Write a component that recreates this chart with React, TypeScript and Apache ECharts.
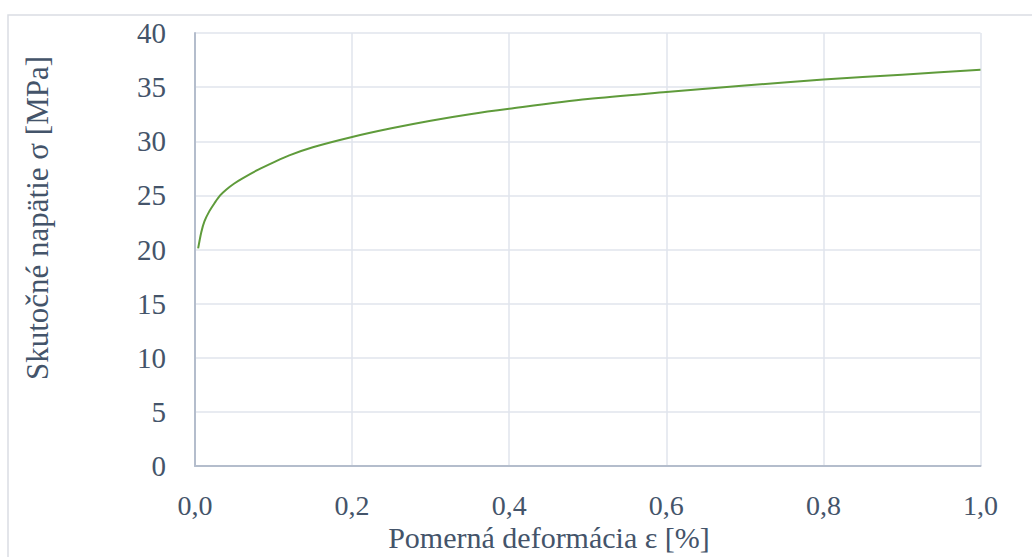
import React, { useEffect, useRef } from "react";
import * as echarts from "echarts";

const strain = [0.004, 0.008, 0.012, 0.018, 0.025, 0.032, 0.04, 0.05, 0.06, 0.08, 0.1, 0.12, 0.15, 0.2, 0.25, 0.3, 0.35, 0.4, 0.5, 0.6, 0.7, 0.8, 0.9, 1.0];
const stress = [20.1, 21.6, 22.6, 23.5, 24.3, 25.0, 25.55, 26.1, 26.55, 27.35, 28.05, 28.7, 29.45, 30.4, 31.2, 31.9, 32.5, 33.0, 33.9, 34.55, 35.15, 35.7, 36.15, 36.6];
const xTitle = "Pomerná deformácia ε [%]";
const yTitle = "Skutočné napätie σ [MPa]";

const FONT = "Times New Roman";
const TEXT = "#44546a";

export default function App() {
  const ref = useRef<HTMLDivElement>(null);
  useEffect(() => {
    if (!ref.current) return;
    const chart = echarts.init(ref.current, null, { renderer: "svg" });
    chart.setOption({
      animation: false,
      backgroundColor: "#ffffff",
      grid: { left: 195, top: 33, right: 51.5, bottom: 91, containLabel: false },
      xAxis: {
        type: "value",
        min: 0,
        max: 1,
        interval: 0.2,
        axisLine: { show: true, onZero: false, lineStyle: { color: "#b4bdcc", width: 2 } },
        axisTick: { show: false },
        axisLabel: {
          margin: 25,
          fontFamily: FONT,
          fontSize: 28,
          lineHeight: 28,
          color: TEXT,
          formatter: (v: number) => v.toFixed(1).replace(".", ","),
        },
        splitLine: { show: true, lineStyle: { color: "#e1e5ec", width: 1.5 } },
      },
      yAxis: {
        type: "value",
        min: 0,
        max: 40,
        interval: 5,
        axisLine: { show: true, lineStyle: { color: "#b4bdcc", width: 2 } },
        axisTick: { show: false },
        axisLabel: { margin: 29, fontFamily: FONT, fontSize: 29, color: TEXT },
        splitLine: { show: true, lineStyle: { color: "#e1e5ec", width: 1.5 } },
      },
      series: [
        {
          type: "line",
          data: strain.map((x, i) => [x, stress[i]]),
          showSymbol: false,
          smooth: 0.3,
          lineStyle: { color: "#5f9b3b", width: 2 },
          z: 5,
        },
      ],
      graphic: [
        {
          type: "rect",
          shape: { x: 8, y: 15, width: 1040, height: 560 },
          style: { fill: "none", stroke: "#dadde3", lineWidth: 1.5 },
          silent: true,
        },
        {
          type: "text",
          x: 549,
          y: 537,
          style: {
            text: xTitle,
            fontFamily: FONT,
            fontSize: 30,
            lineHeight: 30,
            fill: TEXT,
            align: "center",
            verticalAlign: "middle",
          },
        },
        {
          type: "text",
          x: 37,
          y: 218,
          rotation: Math.PI / 2,
          style: {
            text: yTitle,
            fontFamily: FONT,
            fontSize: 31,
            fill: TEXT,
            align: "center",
            verticalAlign: "middle",
          },
        },
      ],
    });
    return () => chart.dispose();
  }, []);
  return (
    <div
      ref={ref}
      style={{ position: "fixed", left: 0, top: 0, width: 1032, height: 557 }}
    />
  );
}
